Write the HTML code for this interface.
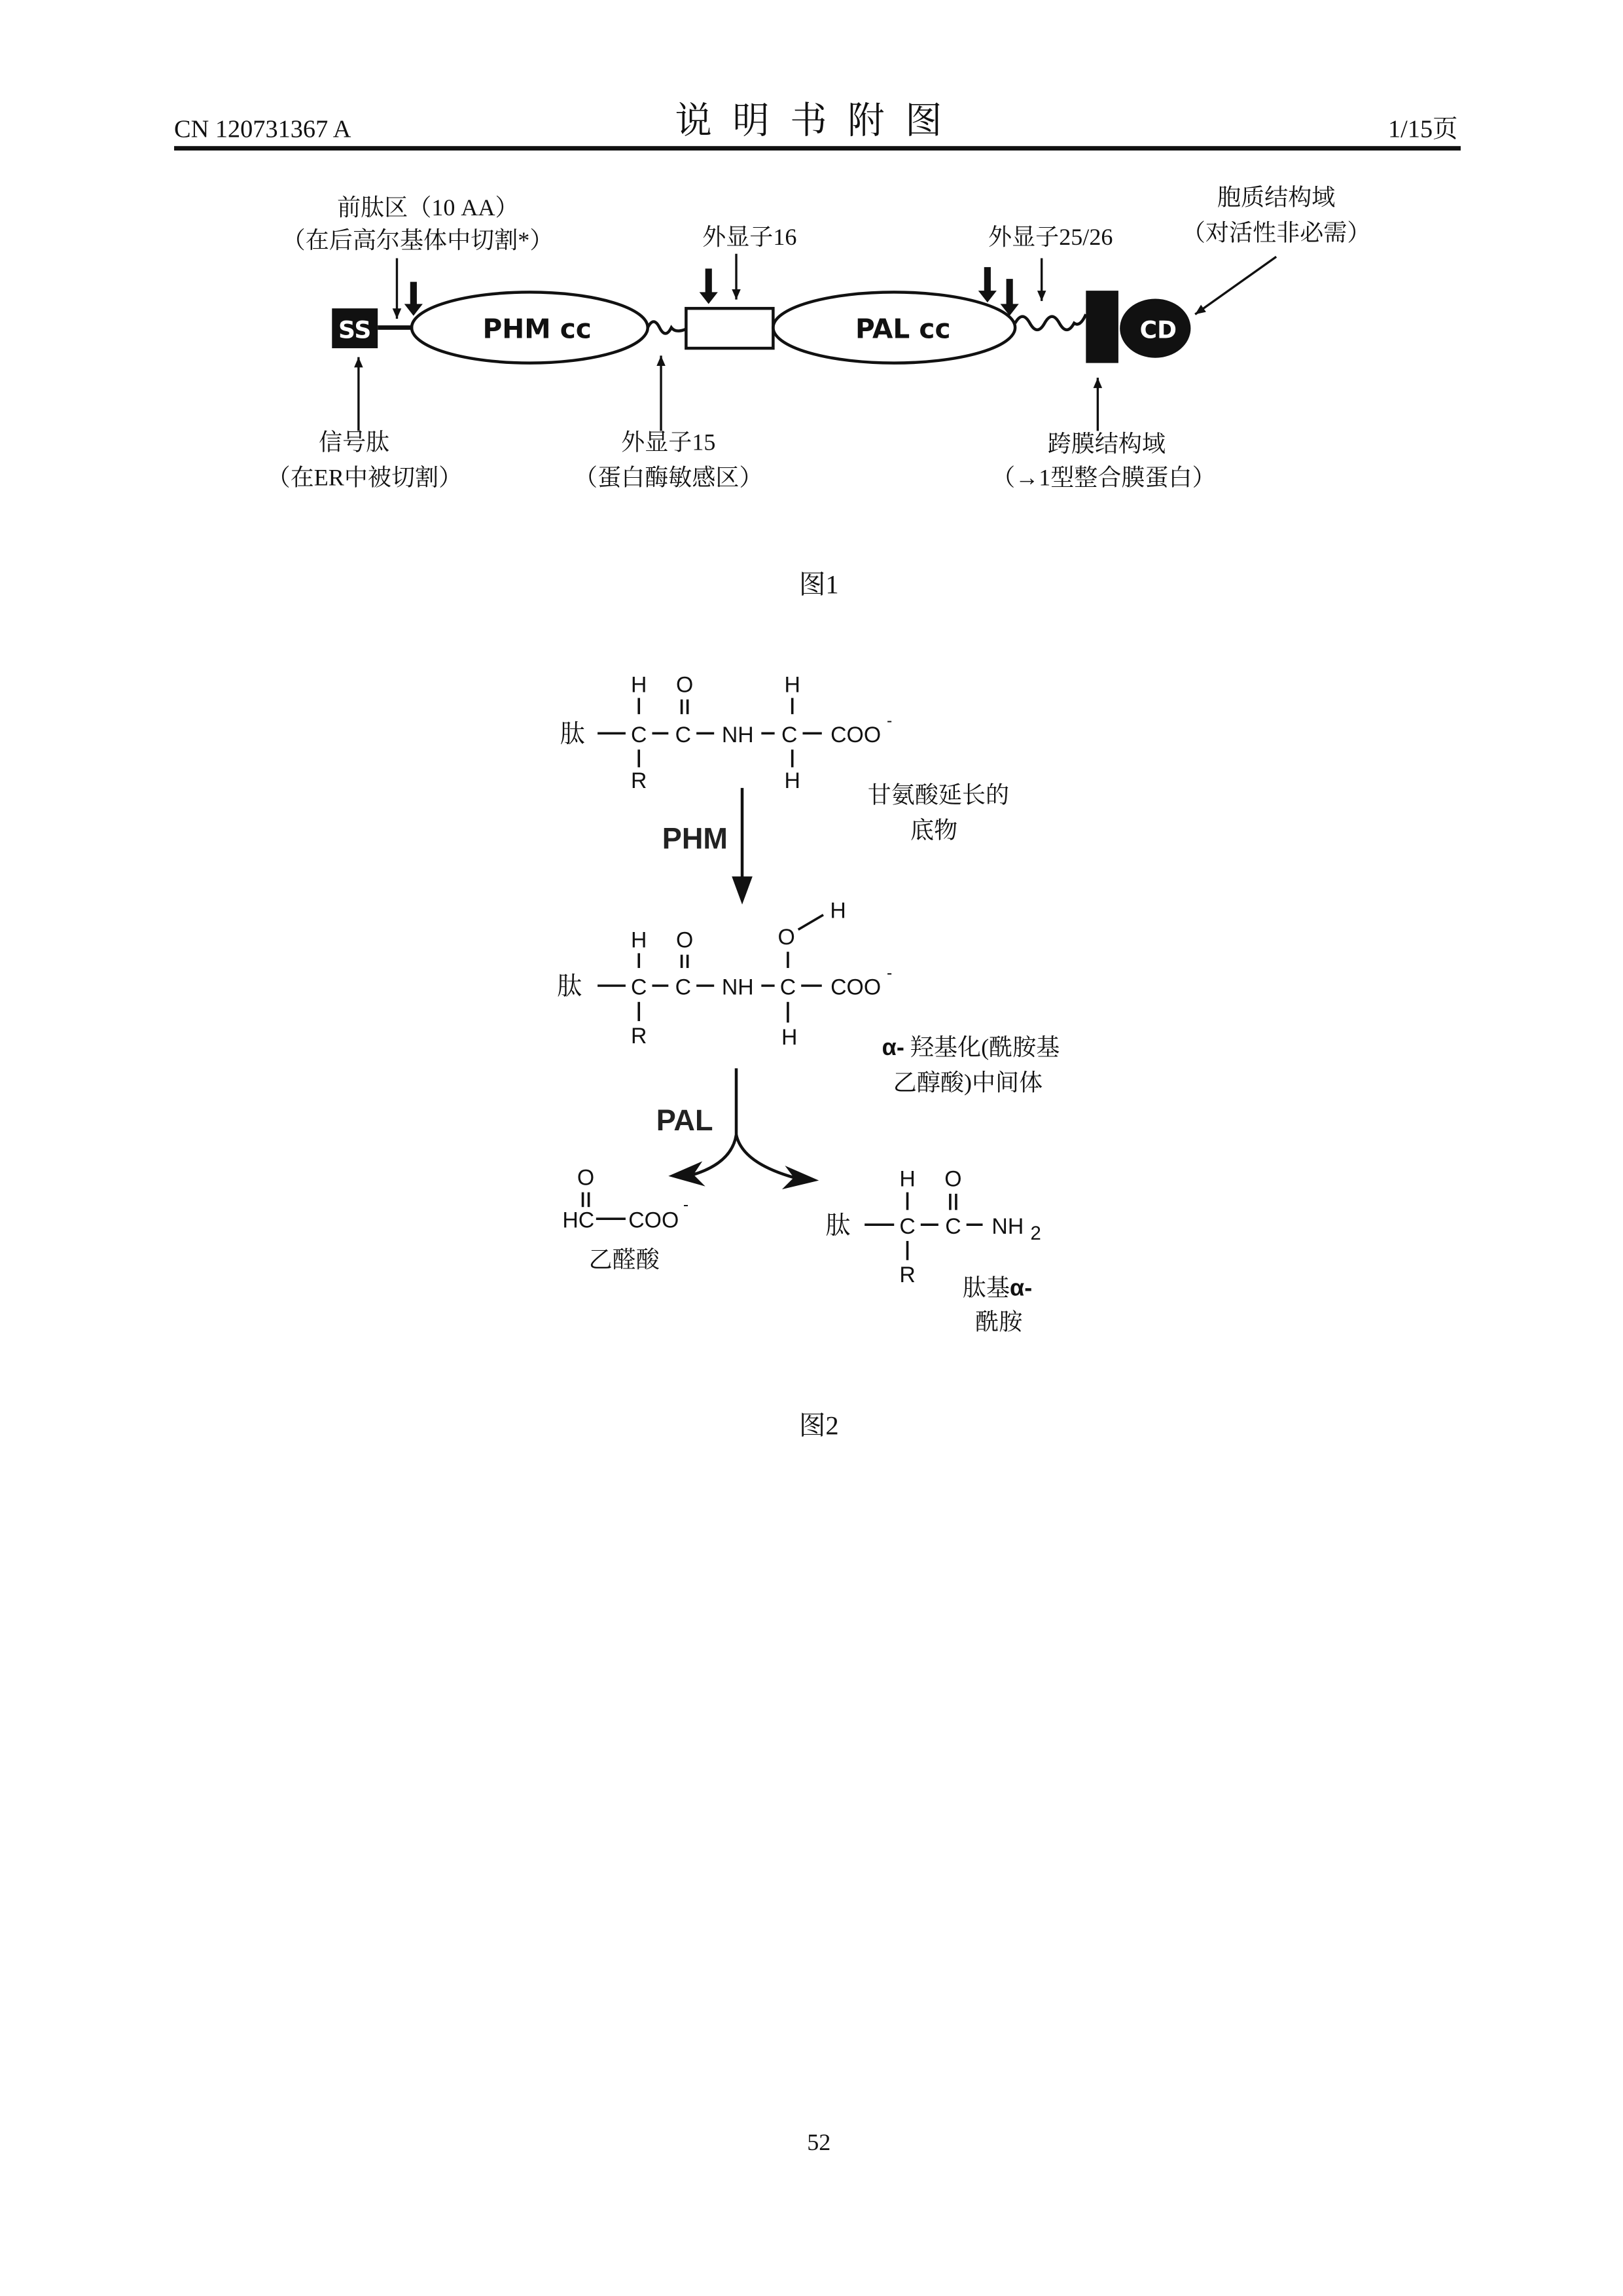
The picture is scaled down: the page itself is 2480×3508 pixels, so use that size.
<!DOCTYPE html>
<html><head><meta charset="utf-8"><style>
html,body{margin:0;padding:0;background:#fff}
svg{display:block}
.cn{font-family:"Liberation Serif","Noto Serif CJK SC",serif;fill:#111}
.ch{font-family:"Liberation Sans","Noto Sans CJK SC",sans-serif;fill:#111}
</style></head><body>
<svg width="2480" height="3508" viewBox="0 0 1100 1556" xmlns="http://www.w3.org/2000/svg">
<defs>
<marker id="a" markerWidth="8" markerHeight="8" refX="7" refY="4" orient="auto" markerUnits="userSpaceOnUse"><path d="M0,1 L7,4 L0,7 Z" fill="#111"/></marker>
</defs>
<!-- header -->
<text x="118" y="93" class="cn" font-size="17">CN 120731367 A</text>
<text x="555" y="90" class="cn" font-size="25" text-anchor="middle" letter-spacing="14">说明书附图</text>
<text x="988" y="93" class="cn" font-size="17" text-anchor="end">1/15页</text>
<rect x="118" y="99" width="872" height="3" fill="#111"/>

<!-- figure 1 -->
<g stroke="#111" fill="none" stroke-width="2">
<line x1="256" y1="222" x2="280" y2="222" stroke-width="3"/>
<ellipse cx="359" cy="222" rx="80" ry="24"/>
<path d="M439,222 q4,-8 8,0 t8,0 q3,4 10,1"/>
<rect x="465" y="209" width="59" height="27"/>
<ellipse cx="606" cy="222" rx="82" ry="24"/>
<path d="M688,219 q5,-9 10,0 t10,0 t10,0 t10,0 q4,3 8,-6"/>
</g>
<rect x="225" y="209" width="31" height="27" fill="#111"/>
<text x="240.5" y="229" font-family="DejaVu Sans,Liberation Sans,sans-serif" font-weight="bold" font-size="16" fill="#fff" text-anchor="middle">SS</text>
<text x="364" y="229" font-family="DejaVu Sans,Liberation Sans,sans-serif" font-weight="bold" font-size="18" fill="#111" text-anchor="middle">PHM cc</text>
<text x="612" y="229" font-family="DejaVu Sans,Liberation Sans,sans-serif" font-weight="bold" font-size="18" fill="#111" text-anchor="middle">PAL cc</text>
<rect x="736" y="197" width="22" height="49" fill="#111"/>
<ellipse cx="783" cy="222.5" rx="24" ry="20" fill="#111"/>
<text x="785" y="229" font-family="DejaVu Sans,Liberation Sans,sans-serif" font-weight="bold" font-size="16" fill="#fff" text-anchor="middle">CD</text>

<g stroke="#111" stroke-width="1.5" fill="none">
<line x1="269" y1="175" x2="269" y2="216" marker-end="url(#a)"/>
<line x1="499" y1="172" x2="499" y2="203" marker-end="url(#a)"/>
<line x1="706" y1="175" x2="706" y2="204" marker-end="url(#a)"/>
<line x1="865" y1="174" x2="810" y2="213" marker-end="url(#a)"/>
<line x1="243" y1="292" x2="243" y2="242" marker-end="url(#a)"/>
<line x1="448" y1="292" x2="448" y2="241" marker-end="url(#a)"/>
<line x1="744" y1="292" x2="744" y2="256" marker-end="url(#a)"/>
</g>
<g fill="#111">
<path d="M278,191 h4.5 v15 h4 l-6.25,8 l-6.25,-8 h4 z"/>
<path d="M478,182 h4.5 v16 h4 l-6.25,8 l-6.25,-8 h4 z"/>
<path d="M667,181 h4.5 v16 h4 l-6.25,8 l-6.25,-8 h4 z"/>
<path d="M682,189 h4.5 v17 h4 l-6.25,8 l-6.25,-8 h4 z"/>
</g>

<g class="cn" font-size="16" text-anchor="middle">
<text x="290" y="146">前肽区（10 AA）</text>
<text x="283" y="168">（在后高尔基体中切割*）</text>
<text x="508" y="166">外显子16</text>
<text x="712" y="166">外显子25/26</text>
<text x="865" y="139">胞质结构域</text>
<text x="865" y="163">（对活性非必需）</text>
<text x="240" y="305">信号肽</text>
<text x="247" y="329">（在ER中被切割）</text>
<text x="453" y="305">外显子15</text>
<text x="453" y="329">（蛋白酶敏感区）</text>
<text x="750" y="306">跨膜结构域</text>
<text x="748" y="329">（→1型整合膜蛋白）</text>
<text x="555" y="402" font-size="18">图1</text>
</g>

<!-- figure 2 -->
<g class="ch" font-size="15" text-anchor="middle">
<text x="433" y="469">H</text><text x="464" y="469">O</text><text x="537" y="469">H</text>
<text x="433" y="503">C</text><text x="463" y="503">C</text><text x="500" y="503">NH</text><text x="535" y="503">C</text><text x="580" y="503">COO</text>
<text x="433" y="534">R</text><text x="537" y="534">H</text>
<text x="433" y="642">H</text><text x="464" y="642">O</text><text x="533" y="640">O</text><text x="568" y="622">H</text>
<text x="433" y="674">C</text><text x="463" y="674">C</text><text x="500" y="674">NH</text><text x="534" y="674">C</text><text x="580" y="674">COO</text>
<text x="433" y="707">R</text><text x="535" y="708">H</text>
<text x="397" y="803">O</text>
<text x="392" y="832">HC</text><text x="443" y="832">COO</text>
<text x="615" y="804">H</text><text x="646" y="804">O</text>
<text x="615" y="836">C</text><text x="646" y="836">C</text><text x="683" y="836">NH</text><text x="702" y="840" font-size="13">2</text>
<text x="615" y="869">R</text>
</g>
<g class="ch" font-size="11"><text x="601" y="492">-</text><text x="601" y="663">-</text><text x="463" y="820">-</text></g>
<g class="cn" font-size="17" text-anchor="middle">
<text x="388" y="503">肽</text><text x="386" y="674">肽</text><text x="568" y="836">肽</text>
</g>
<g stroke="#111" stroke-width="1.6" fill="none">
<line x1="405" y1="497" x2="424" y2="497"/><line x1="442" y1="497" x2="453" y2="497"/><line x1="472" y1="497" x2="484" y2="497"/><line x1="516" y1="497" x2="525" y2="497"/><line x1="544" y1="497" x2="557" y2="497"/>
<line x1="433" y1="473" x2="433" y2="484"/><line x1="433" y1="508" x2="433" y2="520"/><line x1="537" y1="473" x2="537" y2="484"/><line x1="537" y1="508" x2="537" y2="520"/>
<line x1="462" y1="474" x2="462" y2="484"/><line x1="466" y1="474" x2="466" y2="484"/>
<line x1="405" y1="668" x2="424" y2="668"/><line x1="442" y1="668" x2="453" y2="668"/><line x1="472" y1="668" x2="484" y2="668"/><line x1="516" y1="668" x2="525" y2="668"/><line x1="543" y1="668" x2="557" y2="668"/>
<line x1="433" y1="646" x2="433" y2="656"/><line x1="433" y1="679" x2="433" y2="692"/><line x1="534" y1="645" x2="534" y2="656"/><line x1="534" y1="679" x2="534" y2="693"/>
<line x1="462" y1="647" x2="462" y2="656"/><line x1="466" y1="647" x2="466" y2="656"/>
<line x1="541" y1="630" x2="558" y2="620"/>
<line x1="395" y1="808" x2="395" y2="818"/><line x1="399" y1="808" x2="399" y2="818"/>
<line x1="404" y1="826" x2="424" y2="826"/>
<line x1="586" y1="830" x2="606" y2="830"/><line x1="624" y1="830" x2="636" y2="830"/><line x1="655" y1="830" x2="666" y2="830"/>
<line x1="615" y1="808" x2="615" y2="820"/><line x1="615" y1="841" x2="615" y2="854"/>
<line x1="644" y1="809" x2="644" y2="820"/><line x1="648" y1="809" x2="648" y2="820"/>
<line x1="503" y1="534" x2="503" y2="596" stroke-width="2"/>
<path d="M499,724 L499,769 Q496,788 470,796" stroke-width="2"/>
<path d="M499,769 Q503,788 538,798" stroke-width="2"/>
</g>
<path d="M496,594 L510,594 L503,613 Z" fill="#111"/>
<path d="M453,797 L476,787 L470,796 L478,804 Z" fill="#111"/>
<path d="M555,800 L532,790 L538,798 L530,806 Z" fill="#111"/>
<g font-family="Liberation Sans,sans-serif" font-weight="bold" font-size="20" fill="#222" text-anchor="middle">
<text x="471" y="575">PHM</text><text x="464" y="766">PAL</text>
</g>
<g class="cn" font-size="16" text-anchor="middle">
<text x="636" y="544">甘氨酸延长的</text>
<text x="633" y="568">底物</text>
<text x="658" y="715"><tspan font-family="Liberation Sans,sans-serif" font-weight="bold">α-</tspan> 羟基化(酰胺基</text>
<text x="656" y="739">乙醇酸)中间体</text>
<text x="423" y="859">乙醛酸</text>
<text x="676" y="878">肽基<tspan font-family="Liberation Sans,sans-serif" font-weight="bold">α-</tspan></text>
<text x="677" y="901">酰胺</text>
<text x="555" y="972" font-size="18">图2</text>
<text x="555" y="1457" font-size="16">52</text>
</g>
</svg>
</body></html>
